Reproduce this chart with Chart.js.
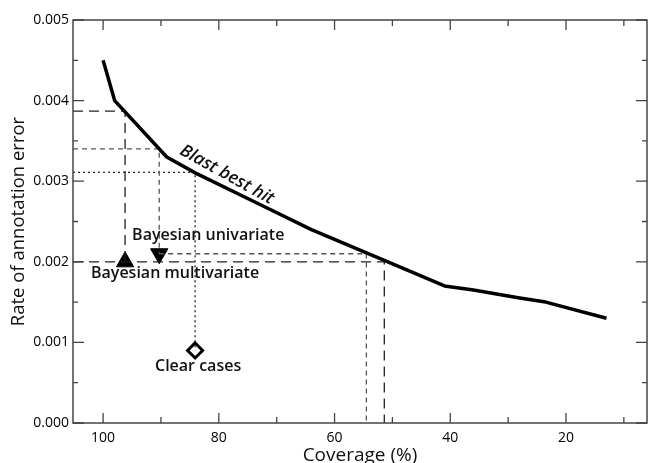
<!DOCTYPE html>
<html>
<head>
<meta charset="utf-8">
<script src="https://cdn.jsdelivr.net/npm/chart.js@4.4.1/dist/chart.umd.min.js"></script>
<style>
  html, body { margin: 0; padding: 0; background: #fff; overflow: hidden; }
  #wrap { width: 648px; height: 463px; position: relative; }
  #errChart { display: block; }
</style>
</head>
<body>
<div id="wrap"><canvas id="errChart"></canvas></div>
<script>
// Blast best hit curve
const coverage  = [100, 98, 89, 84, 72, 64, 51.5, 41, 36, 28, 23.5, 13];
const errorRate = [0.0045, 0.0040, 0.0033, 0.0031, 0.00268, 0.0024, 0.00202, 0.0017, 0.00165, 0.00155, 0.0015, 0.0013];

// classifiers
const methodNames    = ['Bayesian multivariate', 'Bayesian univariate', 'Clear cases'];
const methodCoverage = [96.2, 90.3, 84.1];
const methodError    = [0.0020, 0.0021, 0.0009];

// curve error at the same coverage, and curve coverage at the same error
const blastErrAtCov = [0.00387, 0.0034, 0.00311];
const blastCovAtErr = [51.4, 54.5, null];

const xTicks = [10, 20, 30, 40, 50, 60, 70, 80, 90, 100];
const yTicks = [0, 0.0005, 0.001, 0.0015, 0.002, 0.0025, 0.003, 0.0035, 0.004, 0.0045, 0.005];
const X_MIN = 6, X_MAX = 105.2;

const FONT = '"Open Sans", "Noto Sans", sans-serif';

// horizontal from the left edge to the marker column, then down to the marker
function guide(i) {
  return [
    { x: X_MAX, y: blastErrAtCov[i] },
    { x: methodCoverage[i], y: blastErrAtCov[i] },
    { x: methodCoverage[i], y: methodError[i] }
  ];
}
// same error level across to the curve, then down to the axis
function guide2(i, fromLeft) {
  if (blastCovAtErr[i] === null) return [];
  return [
    { x: fromLeft ? X_MAX : methodCoverage[i], y: methodError[i] },
    { x: blastCovAtErr[i], y: methodError[i] },
    { x: blastCovAtErr[i], y: 0 }
  ];
}

const dashes = [[10, 6], [5, 4], [2, 3]];
const guideColors = ['#222', '#555', '#222'];

const datasets = [{
  label: 'Blast best hit',
  data: coverage.map((c, i) => ({ x: c, y: errorRate[i] })),
  showLine: true,
  borderColor: '#000',
  borderWidth: 3.5,
  pointRadius: 0,
  borderJoinStyle: 'round',
  tension: 0
}];

methodNames.forEach((n, i) => {
  datasets.push({
    label: n + ' guide',
    data: guide(i),
    showLine: true, borderColor: guideColors[i], borderWidth: 1.3,
    borderDash: dashes[i], pointRadius: 0
  });
  datasets.push({
    label: n + ' guide 2',
    data: guide2(i, i === 0),
    showLine: true, borderColor: guideColors[i], borderWidth: 1.3,
    borderDash: dashes[i], pointRadius: 0
  });
});

const pointStyles = ['triangle', 'triangle', 'rectRot'];
const rotations = [0, 180, 0];
methodNames.forEach((n, i) => {
  datasets.push({
    label: n,
    data: [{ x: methodCoverage[i], y: methodError[i] }],
    showLine: false,
    pointStyle: pointStyles[i],
    rotation: rotations[i],
    pointRadius: i === 2 ? 7.5 : 10,
    backgroundColor: i === 2 ? '#fff' : '#000',
    borderColor: '#000',
    borderWidth: i === 2 ? 3 : 1
  });
});

// frame, inward ticks, titles and text labels
const decor = {
  id: 'decor',
  afterDatasetsDraw(chart) {
    const { ctx, chartArea: a, scales: { x, y } } = chart;
    ctx.save();
    ctx.strokeStyle = '#444';
    ctx.lineWidth = 1.5;
    ctx.strokeRect(a.left, a.top, a.right - a.left, a.bottom - a.top);
    ctx.lineWidth = 1.3;
    xTicks.forEach(v => {
      const px = x.getPixelForValue(v);
      const len = v % 20 === 0 ? 10 : 6;
      ctx.beginPath();
      ctx.moveTo(px, a.bottom); ctx.lineTo(px, a.bottom - len);
      ctx.moveTo(px, a.top); ctx.lineTo(px, a.top + len);
      ctx.stroke();
    });
    yTicks.forEach(v => {
      const py = y.getPixelForValue(v);
      const major = Math.abs(v * 1000 - Math.round(v * 1000)) < 1e-6;
      const len = major ? 11 : 5;
      ctx.beginPath();
      ctx.moveTo(a.left, py); ctx.lineTo(a.left + len, py);
      ctx.moveTo(a.right, py); ctx.lineTo(a.right - len, py);
      ctx.stroke();
    });

    ctx.fillStyle = '#111';
    ctx.textAlign = 'center';
    ctx.textBaseline = 'middle';

    // axis titles
    ctx.font = '19px ' + FONT;
    ctx.fillText('Coverage (%)', (a.left + a.right) / 2, 456);
    ctx.save();
    ctx.translate(19, (a.top + a.bottom) / 2);
    ctx.rotate(-Math.PI / 2);
    ctx.font = '18.5px ' + FONT;
    ctx.fillText('Rate of annotation error', 0, 0);
    ctx.restore();

    // marker labels
    ctx.font = '600 16px ' + FONT;
    const lx = [x.getPixelForValue(methodCoverage[0]) + 50, x.getPixelForValue(methodCoverage[1]) + 49, x.getPixelForValue(methodCoverage[2]) + 3];
    const ly = [y.getPixelForValue(methodError[0]) + 12, y.getPixelForValue(methodError[1]) - 18, y.getPixelForValue(methodError[2]) + 16];
    methodNames.forEach((n, i) => ctx.fillText(n, lx[i], ly[i]));

    // curve label
    ctx.translate(x.getPixelForValue(78.6), y.getPixelForValue(0.00308));
    ctx.rotate(29 * Math.PI / 180);
    ctx.font = 'italic 600 17.5px ' + FONT;
    ctx.fillText('Blast best hit', 0, 0);
    ctx.restore();
  }
};

new Chart(document.getElementById('errChart'), {
  type: 'scatter',
  data: { datasets },
  options: {
    responsive: true,
    maintainAspectRatio: false,
    animation: false,
    events: [],
    layout: { autoPadding: false, padding: { top: 20, right: 1, left: 0, bottom: 0 } },
    plugins: { legend: { display: false }, tooltip: { enabled: false } },
    scales: {
      x: {
        type: 'linear', reverse: true, min: X_MIN, max: X_MAX,
        afterBuildTicks: s => { s.ticks = xTicks.map(v => ({ value: v })); },
        afterFit: s => { s.height = 40; s.paddingLeft = 0; s.paddingRight = 0; },
        grid: { display: false, drawTicks: false },
        border: { display: false },
        ticks: {
          padding: 7, color: '#000', font: { family: FONT, size: 14 },
          maxRotation: 0, autoSkip: false,
          callback: v => (v % 20 === 0 ? String(v) : '')
        }
      },
      y: {
        type: 'linear', min: 0, max: 0.005,
        afterBuildTicks: s => { s.ticks = yTicks.map(v => ({ value: v })); },
        afterFit: s => { s.width = 73; s.paddingTop = 0; s.paddingBottom = 0; },
        grid: { display: false, drawTicks: false },
        border: { display: false },
        ticks: {
          padding: 4, color: '#000', font: { family: FONT, size: 14 }, autoSkip: false,
          callback: v => (Math.abs(v * 1000 - Math.round(v * 1000)) < 1e-6 ? v.toFixed(3) : '')
        }
      }
    }
  },
  plugins: [decor]
});
</script>
</body>
</html>
